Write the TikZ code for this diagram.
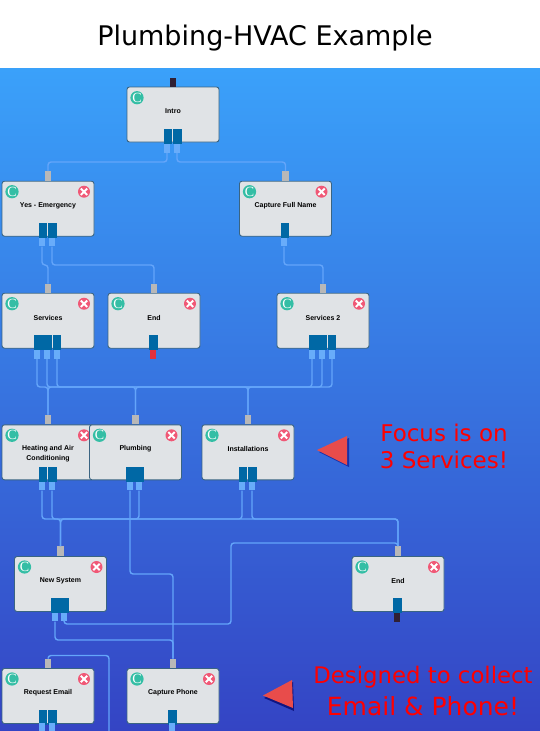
\documentclass[tikz,border=0pt]{standalone}
\usepackage{fontspec}
\setmainfont{DejaVu Sans}
\newfontfamily\cardfont{Liberation Sans}
\newfontfamily\iconfont{Liberation Serif}
\usetikzlibrary{calc}
\definecolor{bgtop}{RGB}{58,161,250}
\definecolor{bgbot}{RGB}{52,68,196}
\definecolor{cardfill}{RGB}{224,227,230}
\definecolor{cardedge}{RGB}{58,100,130}
\definecolor{portdark}{RGB}{0,104,165}
\definecolor{portlight}{RGB}{104,172,250}
\definecolor{wirecol}{RGB}{100,165,250}
\definecolor{greyport}{RGB}{184,184,184}
\definecolor{teal}{RGB}{52,190,165}
\definecolor{pinkx}{RGB}{240,88,118}
\definecolor{tri}{RGB}{232,76,75}
\definecolor{endblack}{RGB}{48,32,52}
\definecolor{endred}{RGB}{226,48,62}
\tikzset{
  card/.style={draw=cardedge,line width=.9pt,fill=cardfill,rounded corners=2.5pt,minimum width=92pt,minimum height=55pt,inner sep=0pt},
  cardtext/.style={font=\cardfont\bfseries\fontsize{7}{10}\selectfont,align=center,text=black,inner sep=0pt},
  iconc/.style={circle,fill=teal,minimum size=12pt,inner sep=0pt,text=white,font=\iconfont\fontsize{14}{14}\selectfont},
  iconx/.style={circle,fill=pinkx,minimum size=12pt,inner sep=0pt,path picture={
    \draw[white,line width=2pt] ($(path picture bounding box.center)+(-3.2,-3.2)$) -- ($(path picture bounding box.center)+(3.2,3.2)$);
    \draw[white,line width=2pt] ($(path picture bounding box.center)+(-3.2,3.2)$) -- ($(path picture bounding box.center)+(3.2,-3.2)$);}},
  outd/.style={fill=portdark,minimum width=8.6pt,minimum height=15pt,inner sep=0pt},
  outw/.style={fill=portdark,minimum width=18pt,minimum height=15pt,inner sep=0pt},
  outl/.style={fill=portlight,minimum width=6pt,minimum height=8.6pt,inner sep=0pt},
  ing/.style={fill=greyport,minimum width=6.4pt,minimum height=9.6pt,inner sep=0pt},
  endb/.style={fill=endblack,minimum width=6pt,minimum height=9pt,inner sep=0pt},
  endr/.style={fill=endred,minimum width=6pt,minimum height=9pt,inner sep=0pt},
  wire/.style={draw=wirecol,line width=1.4pt,rounded corners=3pt},
  note/.style={text=red,align=center,inner sep=0pt},
}
% name, centre x, centre y, text
\newcommand{\flowcard}[4]{%
  \node[card] (#1) at (#2,#3) {};
  \node[cardtext] (#1-t) at (#2,#3-3.2) {#4};
  \node[iconc] (#1-c) at (#2-36,#3-17) {C};
  \node[iconx] (#1-x) at (#2+36,#3-17) {};
}
% vertical-horizontal-vertical connector
\newcommand{\vhv}[3]{\draw[wire] (#1.south) -- (#1.south |- #2) -- (#3.north |- #2) -- (#3.north);}
\begin{document}
\begin{tikzpicture}[x=1pt,y=-1pt]
\useasboundingbox (0,0) rectangle (540,731);
\fill[white] (0,0) rectangle (540,68);
\shade[top color=bgtop,bottom color=bgbot] (0,68) rectangle (540,731);
\node[font=\fontsize{27}{32}\selectfont,text=black,inner sep=0pt] (title) at (265,38) {Plumbing-HVAC Example};

% cards
\node[card] (intro) at (173,114.5) {};
\node[cardtext] (intro-t) at (173,111.3) {Intro};
\node[iconc] (intro-c) at (137,97.7) {C};
\node[endb] (introin) at (173,82.5) {};
\node[outd] (ia) at (168,136.5) {};
\node[outd] (ib) at (177.5,136.5) {};
\node[outl] (ia2) at (167,148.5) {};
\node[outl] (ib2) at (177,148.5) {};

\flowcard{yes}{48}{208.7}{Yes - Emergency}
\flowcard{name}{285.5}{208.7}{Capture Full Name}
\flowcard{serv}{48}{320.7}{Services}
\flowcard{end}{154}{320.7}{End}
\flowcard{servb}{323}{320.7}{Services 2}
\flowcard{heat}{48}{452.3}{}
\node[cardtext] (heat-l) at (48,454) {Heating and Air\\Conditioning};
\flowcard{plum}{135.5}{452.3}{Plumbing}
\flowcard{inst}{248}{452.3}{Installations}
\flowcard{news}{60.5}{584}{New System}
\flowcard{endb2}{398}{584}{End}
\flowcard{mail}{48}{696}{Request Email}
\flowcard{phone}{173}{696}{Capture Phone}

% grey input ports
\node[ing] (gyes) at (48,176.2) {};
\node[ing] (gname) at (285.5,176.2) {};
\node[ing] (gserv) at (48,288.5) {};
\node[ing] (gend) at (154,288.5) {};
\node[ing] (gservb) at (323,288.5) {};
\node[ing] (gheat) at (48,419.5) {};
\node[ing] (gplum) at (135.5,419.5) {};
\node[ing] (ginst) at (248,419.5) {};
\node[ing] (gnews) at (60.5,551) {};
\node[ing] (gendb) at (398,551) {};
\node[ing] (gmail) at (48,663.5) {};
\node[ing] (gphone) at (173,663.5) {};

% output ports
\node[outd] (ya) at (43,230.5) {};
\node[outd] (yb) at (52.5,230.5) {};
\node[outl] (ya2) at (42,242) {};
\node[outl] (yb2) at (52,242) {};
\node[outd] (na) at (285,230.5) {};
\node[outl] (na2) at (284,242) {};

\node[outw] (sa) at (43,342.5) {};
\node[outd] (sb) at (57,342.5) {};
\node[outl] (sa2) at (37,354.5) {};
\node[outl] (sb2) at (47,354.5) {};
\node[outl] (sc2) at (57,354.5) {};
\node[outd] (ea) at (153.5,342.5) {};
\node[endr] (ea2) at (153,354.5) {};
\node[outw] (ta) at (318,342.5) {};
\node[outd] (tb) at (332,342.5) {};
\node[outl] (ta2) at (312,354.5) {};
\node[outl] (tb2) at (322,354.5) {};
\node[outl] (tc2) at (332,354.5) {};

\node[outd] (ha) at (43,474.5) {};
\node[outd] (hb) at (52.5,474.5) {};
\node[outl] (ha2) at (42,486) {};
\node[outl] (hb2) at (52,486) {};
\node[outw] (pa) at (135,474.5) {};
\node[outl] (pa2) at (130,486) {};
\node[outl] (pb2) at (139,486) {};
\node[outd] (qa) at (243,474.5) {};
\node[outd] (qb) at (252.5,474.5) {};
\node[outl] (qa2) at (242,486) {};
\node[outl] (qb2) at (252,486) {};

\node[outw] (wa) at (60,605) {};
\node[outl] (wa2) at (55,617) {};
\node[outl] (wb2) at (64,617) {};
\node[outd] (xa) at (397.5,605) {};
\node[endb] (xa2) at (397,617) {};

\node[outd] (ma) at (43,717) {};
\node[outd] (mb) at (52.5,717) {};
\node[outl] (ma2) at (42,727.6) {};
\node[outl] (mb2) at (52,727.6) {};
\node[outd] (oa) at (172.5,717) {};
\node[outl] (oa2) at (172,727.6) {};

% routing levels
\coordinate (l1) at (0,162);
\coordinate (l2) at (0,265);
\coordinate (l3) at (0,387);
\coordinate (l4) at (0,519);
\coordinate (l5) at (0,574);
\coordinate (l6) at (0,640);
\coordinate (l7) at (0,624);
\coordinate (l8) at (0,543);
\coordinate (l9) at (0,655.5);
\coordinate (vr) at (231,0);
\coordinate (vm) at (109,0);
\coordinate (off) at (109,731);

% connectors
\vhv{ia2}{l1}{gyes}
\vhv{ib2}{l1}{gname}
\vhv{ya2}{l2}{gserv}
\vhv{yb2}{l2}{gend}
\vhv{na2}{l2}{gservb}
\vhv{sa2}{l3}{gheat}
\vhv{sb2}{l3}{gplum}
\vhv{sc2}{l3}{ginst}
\vhv{ta2}{l3}{gheat}
\vhv{tb2}{l3}{gplum}
\vhv{tc2}{l3}{ginst}
\vhv{ha2}{l4}{gnews}
\vhv{hb2}{l4}{gendb}
\vhv{pb2}{l4}{gnews}
\vhv{qa2}{l4}{gnews}
\vhv{qb2}{l4}{gendb}
\vhv{pa2}{l5}{gphone}
\vhv{wa2}{l6}{gphone}
\draw[wire] (wb2.south) -- (wb2.south |- l7) -- (vr |- l7) -- (vr |- l8) -- (gendb.north |- l8) -- (gendb.north);
\draw[wire] (gmail.north) -- (gmail.north |- l9) -- (vm |- l9) -- (off);

% callouts
\fill[black!50!blue,opacity=.55] (319,452) -- (349,438) -- (349,467) -- cycle;
\fill[tri] (317,450) -- (347,436) -- (347,465) -- cycle;
\fill[black!60!blue,opacity=.7] (264,698) -- (293,682) -- (294,711) -- cycle;
\fill[tri] (263,695.5) -- (292,680) -- (293,708) -- cycle;
\node[note,font=\fontsize{23}{27.5}\selectfont] (focus) at (444,446.5) {Focus is on\\3 Services!};
\node[note,font=\fontsize{22.8}{32}\selectfont] (designed) at (423,691) {Designed to collect\\{\fontsize{25}{32}\selectfont Email \& Phone!}};
\end{tikzpicture}
\end{document}
